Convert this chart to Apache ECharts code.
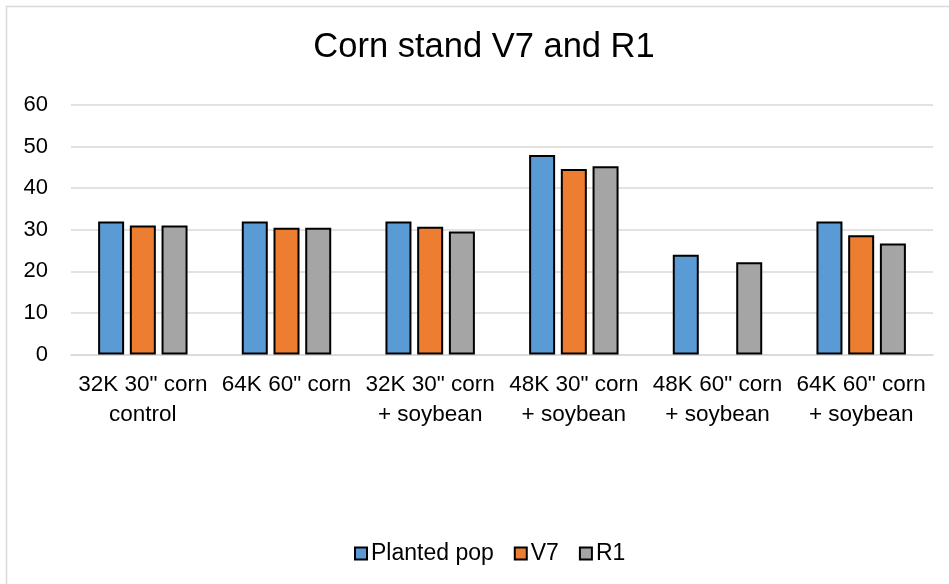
<!DOCTYPE html>
<html>
<head>
<meta charset="utf-8">
<script src="https://cdn.jsdelivr.net/npm/echarts@6/dist/echarts.min.js"></script>
<style>
html,body{margin:0;padding:0;background:#fff;}
#c{width:949px;height:584px;}
</style>
</head>
<body>
<div id="c"></div>
<script>
const categories = ['32K 30" corn\ncontrol', '64K 60" corn', '32K 30" corn\n+ soybean', '48K 30" corn\n+ soybean', '48K 60" corn\n+ soybean', '64K 60" corn\n+ soybean'];
const seriesNames = ['Planted pop', 'V7', 'R1'];
const plantedPop = [32, 32, 32, 48, 24, 32];
const v7 = [31, 30.5, 30.7, 44.6, null, 28.7];
const r1 = [31, 30.5, 29.6, 45.3, 22.2, 26.7];
const yTicks = [0, 10, 20, 30, 40, 50, 60];

const colors = ['#5B9BD5', '#ED7D31', '#A5A5A5'];
const font = '"Liberation Sans", Arial, sans-serif';
const chart = echarts.init(document.getElementById('c'));
const values = [plantedPop, v7, r1];
chart.setOption({
  animation: false,
  backgroundColor: '#fff',
  color: colors,
  title: {
    text: 'Corn stand V7 and R1',
    left: 479,
    textAlign: 'center',
    top: 25,
    textStyle: {fontFamily: font, fontSize: 34.5, fontWeight: 'normal', color: '#000'}
  },
  graphic: [{
    type: 'rect', left: 4, top: 4, silent: true,
    shape: {x: 0, y: 0, width: 960, height: 600},
    style: {fill: 'none', stroke: '#d9d9d9', lineWidth: 1.5}
  }],
  legend: {
    data: seriesNames,
    left: 349,
    top: 537,
    icon: 'rect',
    itemWidth: 12,
    itemHeight: 12,
    itemGap: 20,
    textStyle: {fontFamily: font, fontSize: 23, color: '#000', padding: [0, 0, 0, -1]}
  },
  grid: {left: 71, right: 16, top: 105, bottom: 229.5, containLabel: false},
  xAxis: {
    type: 'category',
    data: categories,
    axisLine: {lineStyle: {color: '#d9d9d9', width: 1.5}},
    axisTick: {show: false},
    axisLabel: {fontFamily: font, fontSize: 22.5, color: '#000', margin: 15, lineHeight: 30, interval: 0}
  },
  yAxis: {
    type: 'value',
    min: yTicks[0],
    max: yTicks[yTicks.length - 1],
    interval: 10,
    axisLine: {show: false},
    axisTick: {show: false},
    splitLine: {lineStyle: {color: '#d9d9d9', width: 1.5}},
    axisLabel: {fontFamily: font, fontSize: 22, color: '#000', margin: 23}
  },
  series: seriesNames.map((n, i) => ({
    name: n,
    type: 'bar',
    data: values[i],
    barWidth: 26,
    barGap: '22%',
    itemStyle: {color: colors[i], borderColor: '#000', borderWidth: 2}
  }))
});
</script>
</body>
</html>
